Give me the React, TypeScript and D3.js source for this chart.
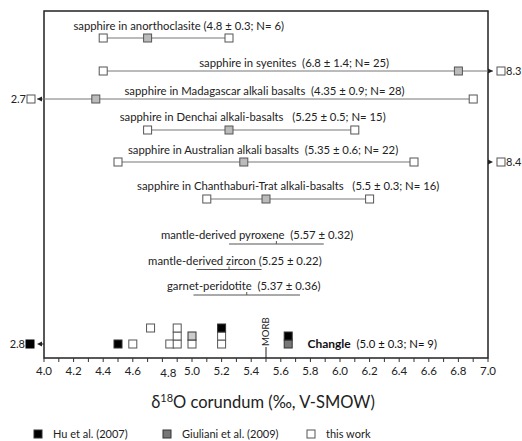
import React from 'react';
import * as d3 from 'd3';

// sapphire occurrences: min / mean / max of delta18O
const rowNames = ['anorthoclasite', 'syenites', 'Madagascar', 'Denchai', 'Australian', 'Chanthaburi'];
const rowLabels = [
  'sapphire in anorthoclasite (4.8 ± 0.3; N= 6)',
  'sapphire in syenites  (6.8 ± 1.4; N= 25)',
  'sapphire in Madagascar alkali basalts  (4.35 ± 0.9; N= 28)',
  'sapphire in Denchai alkali-basalts   (5.25 ± 0.5; N= 15)',
  'sapphire in Australian alkali basalts  (5.35 ± 0.6; N= 22)',
  'sapphire in Chanthaburi-Trat alkali-basalts   (5.5 ± 0.3; N= 16)',
];
const rowMin = [4.4, 4.4, 2.7, 4.7, 4.5, 5.1];
const rowMean = [4.7, 6.8, 4.35, 5.25, 5.35, 5.5];
const rowMax = [5.25, 8.3, 6.9, 6.1, 6.5, 6.2];
const rowOutlier = [null, null, null, null, 8.4, null];
const rowLabelAt = [4.91, 5.69, 5.49, 5.41, 5.48, 5.65];

// mantle reference values
const refLabels = ['mantle-derived pyroxene  (5.57 ± 0.32)', 'mantle-derived zircon (5.25 ± 0.22)', 'garnet-peridotite  (5.37 ± 0.36)'];
const refMean = [5.57, 5.25, 5.37];
const refSd = [0.32, 0.22, 0.36];
const refLabelAt = [5.44, 5.29, 5.35];

// Changle corundum, stacked
const changleValue = [4.5, 4.6, 4.72, 4.85, 4.9, 4.9, 4.9, 5.0, 5.0, 5.2, 5.2, 5.2, 5.65, 5.65];
const changleLevel = [1, 1, 3, 1, 1, 2, 3, 1, 2, 1, 2, 3, 1, 2];
const changleSource = ['hu', 'this', 'this', 'this', 'this', 'this', 'this', 'this', 'giuliani2', 'this', 'this', 'hu', 'giuliani', 'hu'];
const changleOffscale = 2.8;
const morb = 5.5;

const legendKeys = ['hu', 'giuliani', 'this'];
const legendLabels = ['Hu et al. (2007)', 'Giuliani et al. (2009)', 'this work'];

const fills: Record<string, string> = { hu: '#000', giuliani: '#777', giuliani2: '#ccc', this: '#fff' };

const FONT = 'Lato, "Liberation Sans", sans-serif';
const FS = 11.3;

const App = () => {
  const width = 522;
  const height = 441;
  const margin = { top: 11, right: 34, bottom: 83, left: 44 };
  const x0 = margin.left;
  const x1 = width - margin.right;
  const y0 = margin.top;
  const y1 = height - margin.bottom;

  const x = d3.scaleLinear().domain([4.0, 7.0]).range([x0, x1]);
  const rowY = d3.scaleOrdinal<string, number>().domain(rowNames).range([38, 71, 99, 130, 162, 199]);
  const labelDy = d3.scaleOrdinal<string, number>().domain(rowNames).range([-8, -4, -4, -9, -8, -9]);
  const refY = d3.scalePoint<string>().domain(refLabels).range([244, 295]);
  const stackY = d3.scaleLinear().domain([0, 3]).range([352, 328]);

  const sq = 8;
  const minorTicks = d3.range(40, 71).map((d) => d / 10);
  const majorTicks = d3.range(20, 36).map((d) => d / 5);

  const square = (cx: number, cy: number, fill: string, key: string, stroke = '#555') => (
    <rect key={key} x={cx - sq / 2} y={cy - sq / 2} width={sq} height={sq} fill={fill} stroke={stroke} strokeWidth={1} />
  );
  const arrowRight = (tx: number, cy: number, key: string) => (
    <path key={key} d={`M${tx},${cy} L${tx - 5},${cy - 2.5} L${tx - 5},${cy + 2.5} Z`} fill="#222" />
  );
  const arrowLeft = (tx: number, cy: number, key: string) => (
    <path key={key} d={`M${tx},${cy} L${tx + 5},${cy - 2.5} L${tx + 5},${cy + 2.5} Z`} fill="#222" />
  );

  const rows = rowNames.map((name, i) => {
    const cy = rowY(name);
    const els: React.ReactNode[] = [];
    const lo = rowMin[i];
    const hi = rowMax[i];
    const loX = lo < 4 ? x0 - 7 : x(lo);
    const hiX = hi > 7 ? x1 + 5 : x(hi);
    els.push(<line key="l" x1={loX} x2={hiX} y1={cy} y2={cy} stroke="#777" strokeWidth={1} />);
    if (lo < 4) {
      els.push(arrowLeft(x0 - 7, cy, 'al'));
      els.push(square(x0 - 13, cy, '#fff', 'sl'));
      els.push(<text key="tl" x={x0 - 18} y={cy + 4} textAnchor="end" fontSize={11} fontFamily={FONT} fill="#222">{lo}</text>);
    } else {
      els.push(square(x(lo), cy, '#fff', 'sl'));
    }
    if (hi > 7) {
      els.push(arrowRight(x1 + 5, cy, 'ar'));
      els.push(square(x1 + 13, cy, '#fff', 'sh'));
      els.push(<text key="th" x={x1 + 18} y={cy + 4} fontSize={11} fontFamily={FONT} fill="#222">{hi}</text>);
    } else {
      els.push(square(x(hi), cy, '#fff', 'sh'));
    }
    const out = rowOutlier[i];
    if (out !== null) {
      els.push(<line key="ol" x1={x1} x2={x1 + 3} y1={cy} y2={cy} stroke="#222" />);
      els.push(arrowRight(x1 + 5, cy, 'ao'));
      els.push(square(x1 + 13, cy, '#fff', 'so'));
      els.push(<text key="to" x={x1 + 18} y={cy + 4} fontSize={11} fontFamily={FONT} fill="#222">{out}</text>);
    }
    els.push(square(x(rowMean[i]), cy, '#bbb', 'sm'));
    els.push(
      <text key="lab" x={x(rowLabelAt[i])} y={cy + labelDy(name)} textAnchor="middle" fontSize={FS} fontFamily={FONT} fill="#222" style={{ whiteSpace: 'pre' }}>
        {rowLabels[i]}
      </text>
    );
    return <g key={name}>{els}</g>;
  });

  const refs = refLabels.map((lab, i) => {
    const cy = refY(lab) as number;
    return (
      <g key={lab}>
        <text x={x(refLabelAt[i])} y={cy - 5} textAnchor="middle" fontSize={FS} fontFamily={FONT} fill="#222" style={{ whiteSpace: 'pre' }}>{lab}</text>
        <line x1={x(refMean[i] - refSd[i])} x2={x(refMean[i] + refSd[i])} y1={cy} y2={cy} stroke="#555" strokeWidth={1} />
        <line x1={x(refMean[i])} x2={x(refMean[i])} y1={cy} y2={cy - 3} stroke="#555" strokeWidth={1} />
      </g>
    );
  });

  const changle = changleValue.map((v, i) => square(x(v), stackY(changleLevel[i]), fills[changleSource[i]], `c${i}`, changleSource[i] === 'this' ? '#555' : '#333'));
  const changleBase = stackY(1);

  return (
    <div style={{ position: 'absolute', left: 0, top: 0 }}>
      <svg width={width} height={height} style={{ display: 'block', background: '#fff' }}>
        <rect x={x0} y={y0} width={x1 - x0} height={y1 - y0} fill="none" stroke="#222" strokeWidth={1.5} />
        {rows}
        {refs}
        {changle}
        {/* off-scale Changle value */}
        <line x1={x0} x2={x0 - 3} y1={changleBase} y2={changleBase} stroke="#222" />
        {arrowLeft(x0 - 7, changleBase, 'ca')}
        {square(x0 - 14, changleBase, fills.hu, 'cs', '#000')}
        <text x={x0 - 19} y={changleBase + 4} textAnchor="end" fontSize={11} fontFamily={FONT} fill="#222">{changleOffscale}</text>
        {/* MORB */}
        <line x1={x(morb)} x2={x(morb)} y1={347} y2={y1} stroke="#222" strokeWidth={1} />
        <text transform={`translate(${x(morb) + 3},${346}) rotate(-90)`} fontSize={9.5} fontFamily={FONT} fill="#222">MORB</text>
        <text x={x(5.78)} y={changleBase + 4} fontSize={FS} fontFamily={FONT} fill="#111" style={{ whiteSpace: 'pre' }}>
          <tspan fontWeight="bold" fontSize={12}>Changle</tspan>
          <tspan>{'  (5.0 ± 0.3; N= 9)'}</tspan>
        </text>
        {/* axis */}
        {minorTicks.map((t) => (
          <line key={`t${t}`} x1={x(t)} x2={x(t)} y1={y1} y2={y1 + 4} stroke="#333" strokeWidth={1} />
        ))}
        {majorTicks.map((t) => (
          <text key={`l${t}`} x={x(t) + (t === 4.8 ? 6 : 0)} y={y1 + 17 + (t === 4.8 ? 2 : 0)} textAnchor="middle" fontSize={11.5} fontFamily={FONT} fill="#222">
            {t.toFixed(1)}
          </text>
        ))}
        <text x={263} y={408} textAnchor="middle" fontSize={16.5} fontFamily={FONT} fill="#222">
          δ<tspan fontSize={11} dy={-6}>18</tspan><tspan dy={6}>O corundum (‰, V-SMOW)</tspan>
        </text>
        {/* legend */}
        {legendKeys.map((k, i) => {
          const lx = [38, 167, 311][i];
          return (
            <g key={k}>
              <rect x={lx - 4} y={430} width={8} height={8} fill={fills[k]} stroke={k === 'this' ? '#555' : '#333'} />
              <text x={lx + 15} y={438} fontSize={11} fontFamily={FONT} fill="#222">{legendLabels[i]}</text>
            </g>
          );
        })}
      </svg>
    </div>
  );
};

export default App;
